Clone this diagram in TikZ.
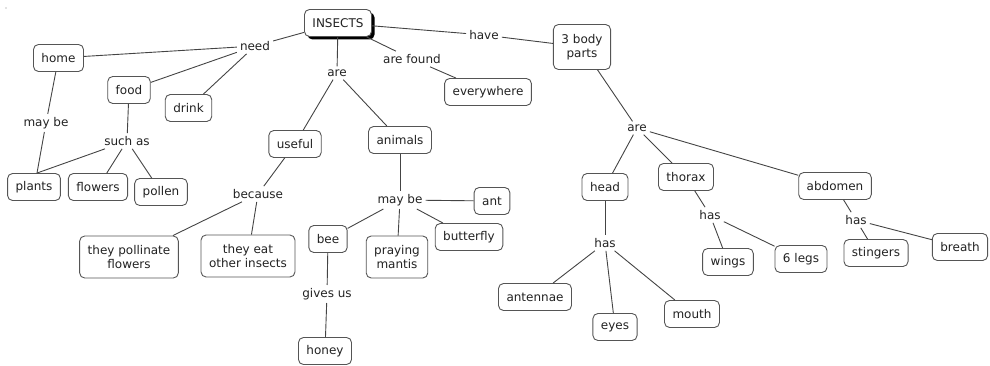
\documentclass[tikz,border=0pt]{standalone}
\usepackage{fontspec}
\setmainfont{DejaVu Sans}
\usetikzlibrary{shadows}
\definecolor{boxc}{HTML}{555555}
\definecolor{linec}{HTML}{444444}
\definecolor{txt}{HTML}{222222}
\begin{document}
\begin{tikzpicture}[x=1pt,y=-1pt,
  box/.style={draw=boxc, rounded corners=5pt, line width=0.9pt, inner xsep=8pt, inner ysep=4pt,
    minimum height=27pt, font=\fontsize{12}{14}\selectfont, text=txt, fill=white, align=center},
  lab/.style={inner sep=3pt, font=\fontsize{12}{14}\selectfont, text=txt},
  conn/.style={draw=linec, line width=0.9pt}]
\useasboundingbox (0,0) rectangle (990,366);
\fill[gray] (6,8) circle (0.7pt);
% concept boxes
\node[box, drop shadow={shadow xshift=3pt, shadow yshift=-3pt, fill=black, opacity=1}] (insects) at (338,23) {INSECTS};
\node[box] (home) at (58.5,58) {home};
\node[box] (food) at (129,90) {food};
\node[box] (drink) at (188.5,108) {drink};
\node[box] (plants) at (34,187) {plants};
\node[box] (flowers) at (98,187) {flowers};
\node[box] (pollen) at (161,192) {pollen};
\node[box] (useful) at (295,144) {useful};
\node[box] (animals) at (400,140) {animals};
\node[box, minimum height=42pt] (pollinate) at (129,257) {they pollinate\\flowers};
\node[box, minimum height=42pt] (eat) at (248,256) {they eat\\other insects};
\node[box] (bee) at (328,239) {bee};
\node[box, minimum height=42pt] (mantis) at (397,257) {praying\\mantis};
\node[box] (butterfly) at (469,237) {butterfly};
\node[box] (ant) at (492,201) {ant};
\node[box] (honey) at (325,351) {honey};
\node[box] (everywhere) at (488,92) {everywhere};
\node[box, minimum height=45pt] (body) at (582,47) {3 body\\parts};
\node[box] (head) at (605,187) {head};
\node[box] (thorax) at (686,177) {thorax};
\node[box] (abdomen) at (835,186) {abdomen};
\node[box] (antennae) at (535,297) {antennae};
\node[box] (eyes) at (615,327) {eyes};
\node[box] (mouth) at (692,314) {mouth};
\node[box] (wings) at (728,262) {wings};
\node[box] (legs) at (801,259) {6 legs};
\node[box] (stingers) at (876,253) {stingers};
\node[box] (breath) at (960,247) {breath};
\coordinate (plantstop) at ([xshift=3pt]plants.north);
% linking phrases
\node[lab] (need) at (255,46) {need};
\node[lab] (maybeA) at (46,123) {may be};
\node[lab] (suchas) at (127,141) {such as};
\node[lab] (areA) at (337,73) {are};
\node[lab] (because) at (258,194) {because};
\node[lab] (maybeB) at (400,200) {may be};
\node[lab] (givesus) at (327,294) {gives us};
\node[lab] (arefound) at (412,59) {are found};
\node[lab] (have) at (484,35) {have};
\node[lab] (areB) at (637,128) {are};
\node[lab] (hasA) at (605,243) {has};
\node[lab] (hasB) at (710,215) {has};
\node[lab] (hasC) at (856,220) {has};
% connectors
\draw[conn] (insects) -- (need);
\draw[conn] (need) -- (home);
\draw[conn] (need) -- (food);
\draw[conn] (need) -- (drink);
\draw[conn] (home) -- (maybeA);
\draw[conn] (maybeA) -- (plantstop);
\draw[conn] (food) -- (suchas);
\draw[conn] (suchas) -- (plantstop);
\draw[conn] (suchas) -- (flowers);
\draw[conn] (suchas) -- (pollen);
\draw[conn] (insects) -- (areA);
\draw[conn] (areA) -- (useful);
\draw[conn] (areA) -- (animals);
\draw[conn] (useful) -- (because);
\draw[conn] (because) -- (pollinate);
\draw[conn] (because) -- (eat);
\draw[conn] (animals) -- (maybeB);
\draw[conn] (maybeB) -- (ant);
\draw[conn] (maybeB) -- (bee);
\draw[conn] (maybeB) -- (mantis);
\draw[conn] (maybeB) -- (butterfly);
\draw[conn] (bee) -- (givesus);
\draw[conn] (givesus) -- (honey);
\draw[conn] (insects) -- (arefound);
\draw[conn] (arefound) -- (everywhere);
\draw[conn] (insects) -- (have);
\draw[conn] (have) -- (body);
\draw[conn] (body) -- (areB);
\draw[conn] (areB) -- (head);
\draw[conn] (areB) -- (thorax);
\draw[conn] (areB) -- (abdomen);
\draw[conn] (head) -- (hasA);
\draw[conn] (hasA) -- (antennae);
\draw[conn] (hasA) -- (eyes);
\draw[conn] (hasA) -- (mouth);
\draw[conn] (thorax) -- (hasB);
\draw[conn] (hasB) -- (wings);
\draw[conn] (hasB) -- (legs);
\draw[conn] (abdomen) -- (hasC);
\draw[conn] (hasC) -- (stingers);
\draw[conn] (hasC) -- (breath);
\end{tikzpicture}
\end{document}
